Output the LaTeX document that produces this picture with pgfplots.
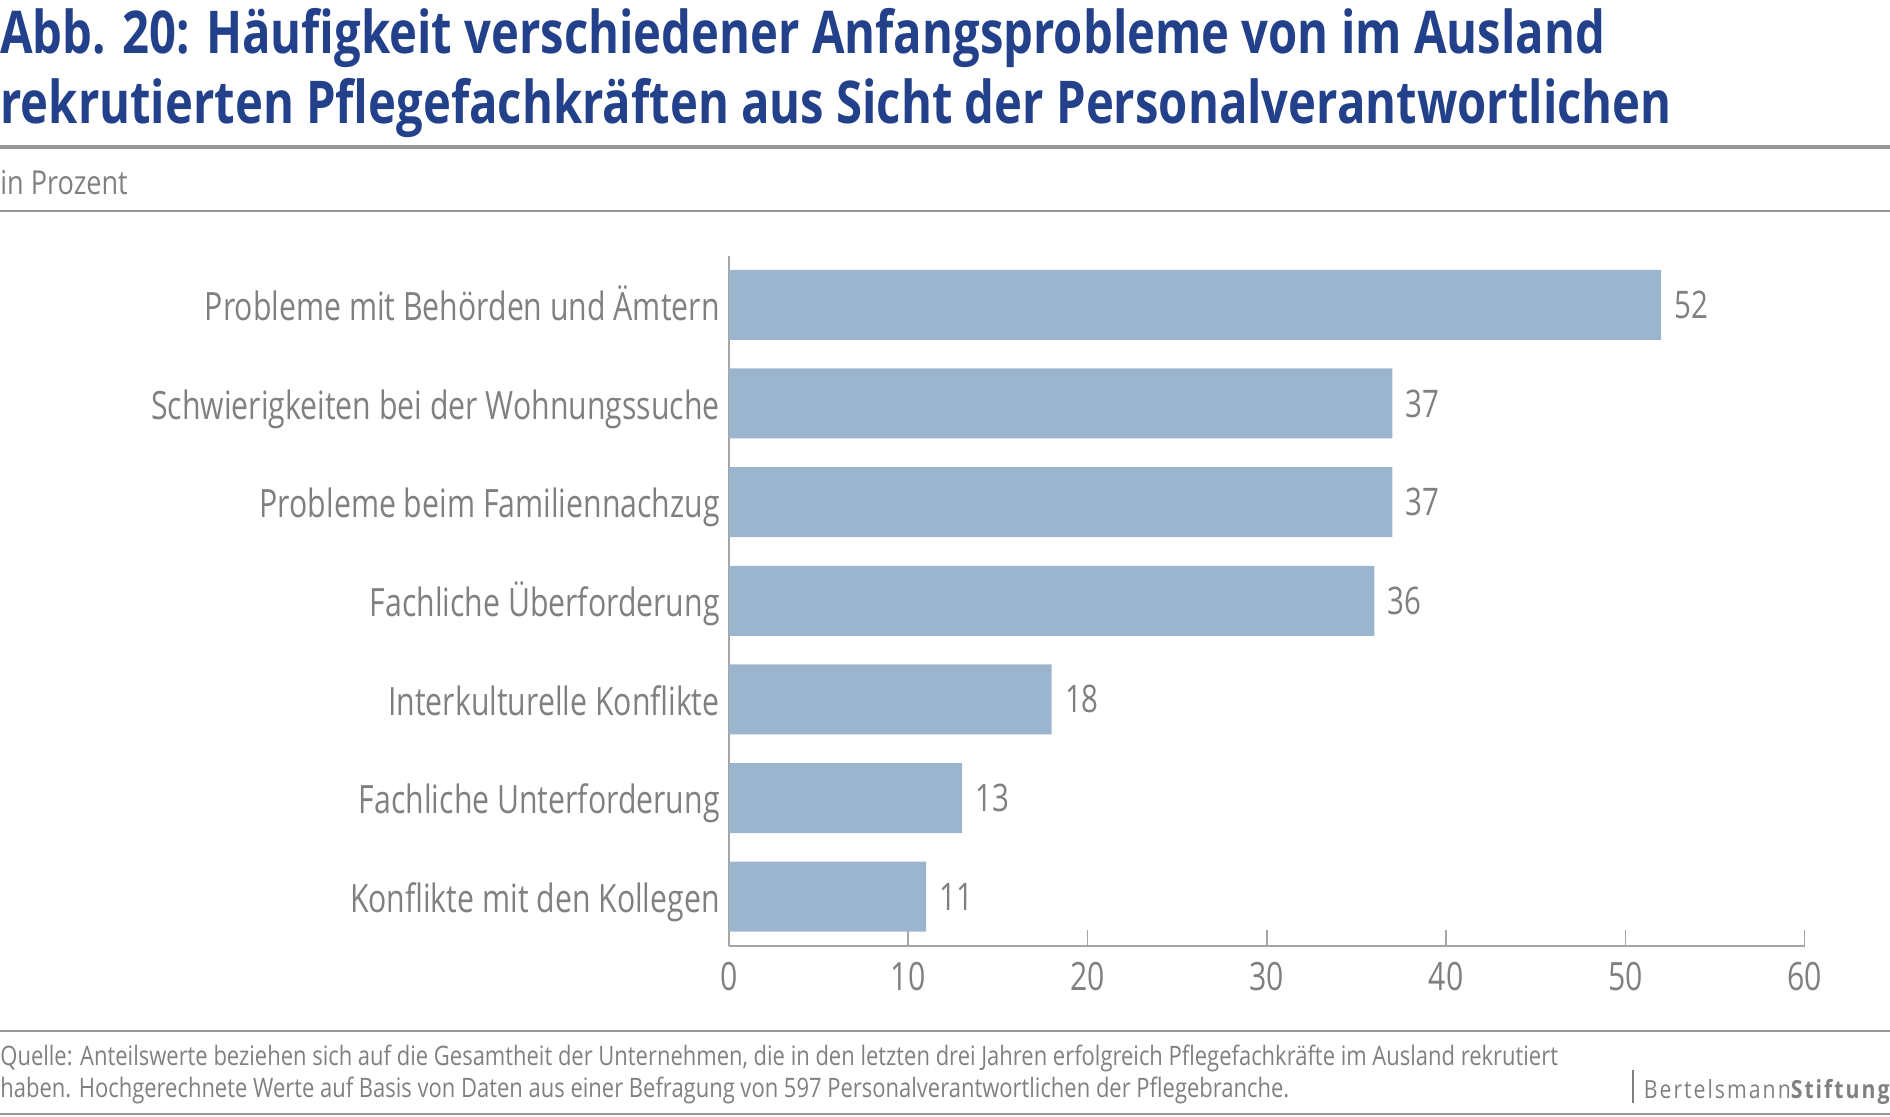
\documentclass[border=0pt]{standalone}
\usepackage{pgfplots}
\pgfplotsset{compat=1.18}
\usepackage{fontspec}
\setmainfont{Open Sans}[FakeStretch=0.82]
\newfontfamily\titlefont{Open Sans}[FakeStretch=0.80]
\newfontfamily\labelfont{Open Sans}[FakeStretch=0.775]
\newfontfamily\logofont{Open Sans}[FakeStretch=0.85, LetterSpace=8]
\definecolor{titleblue}{RGB}{35,64,138}
\definecolor{barblue}{RGB}{155,181,206}
\definecolor{txtgray}{RGB}{128,128,128}
\definecolor{rulegray}{RGB}{150,150,150}
\definecolor{axisgray}{RGB}{165,165,165}
\begin{document}
\begin{tikzpicture}
\path[use as bounding box] (0,0) rectangle (945pt,-558pt);
% title
\node[anchor=base west, inner sep=0pt, text=titleblue, font=\titlefont\bfseries\fontsize{29.5}{34}\selectfont] at (0,-26.5pt) {Abb. 20: Häufigkeit verschiedener Anfangsprobleme von im Ausland};
\node[anchor=base west, inner sep=0pt, text=titleblue, font=\titlefont\bfseries\fontsize{29.5}{34}\selectfont] at (0,-61.5pt) {rekrutierten Pflegefachkräften aus Sicht der Personalverantwortlichen};
\fill[rulegray] (0,-72.6pt) rectangle (945pt,-74.4pt);
\node[anchor=base west, inner sep=0pt, text=txtgray, font=\fontsize{16.5}{19}\selectfont] at (0,-97pt) {in Prozent};
\fill[rulegray] (0,-105.1pt) rectangle (945pt,-105.9pt);
% chart
\begin{axis}[
  at={(364.5pt,-473pt)}, anchor=south west,
  width=537.8pt, height=345.25pt, scale only axis,
  xbar, bar width=35pt,
  xmin=0, xmax=60, ymin=-0.5, ymax=6.5,
  axis x line*=bottom, axis y line*=left,
  axis line style={-, draw=axisgray, line width=0.8pt},
  xtick={0,10,...,60},
  ytick={0,...,6},
  yticklabels={Konflikte mit den Kollegen, Fachliche Unterforderung, Interkulturelle Konflikte, Fachliche Überforderung, Probleme beim Familiennachzug, Schwierigkeiten bei der Wohnungssuche, Probleme mit Behörden und Ämtern},
  tick align=inside,
  major tick length=8pt,
  xtick style={draw=axisgray, line width=0.8pt},
  ytick style={draw=none},
  /pgf/number format/assume math mode=true,
  xticklabel style={text=txtgray, font=\labelfont\fontsize{19.5}{22}\selectfont, inner sep=0pt, anchor=north, yshift=-8pt},
  yticklabel style={text=txtgray, font=\labelfont\fontsize{19.5}{22}\selectfont, inner sep=0pt, anchor=base east, xshift=-4.5pt, yshift=-7.8pt},
  nodes near coords,
  nodes near coords style={anchor=west, inner sep=0pt, xshift=6.5pt, text=txtgray, font=\labelfont\fontsize{19}{22}\selectfont},
  clip=false,
]
\addplot[fill=barblue, draw=none] coordinates {(11,0) (13,1) (18,2) (36,3) (37,4) (37,5) (52,6)};
\end{axis}
% footer
\fill[rulegray] (0,-515pt) rectangle (945pt,-516pt);
\node[anchor=base west, inner sep=0pt, text=txtgray, font=\fontsize{13.4}{16}\selectfont] at (0,-532.8pt) {Quelle: Anteilswerte beziehen sich auf die Gesamtheit der Unternehmen, die in den letzten drei Jahren erfolgreich Pflegefachkräfte im Ausland rekrutiert};
\node[anchor=base west, inner sep=0pt, text=txtgray, font=\fontsize{13.4}{16}\selectfont] at (0,-548.5pt) {haben. Hochgerechnete Werte auf Basis von Daten aus einer Befragung von 597 Personalverantwortlichen der Pflegebranche.};
\fill[rulegray] (0,-556.5pt) rectangle (945pt,-557.5pt);
\draw[txtgray, line width=0.6pt] (816.5pt,-535pt) -- (816.5pt,-551.5pt);
\node[anchor=base east, inner sep=0pt, text=txtgray, font=\logofont\fontsize{12.5}{14}\selectfont] at (945pt,-549pt) {Bertelsmann\bfseries Stiftung};
\end{tikzpicture}
\end{document}
